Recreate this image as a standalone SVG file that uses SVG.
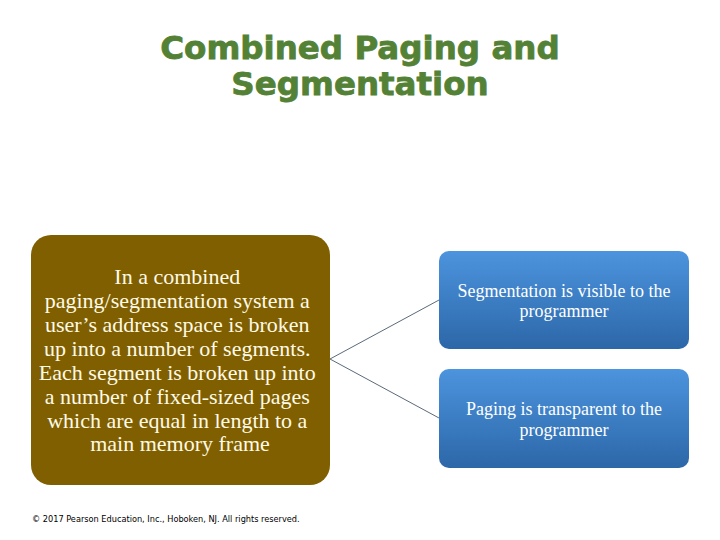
<svg xmlns="http://www.w3.org/2000/svg" width="720" height="540" viewBox="0 0 720 540">
<defs>
<linearGradient id="blue" x1="0" y1="0" x2="0" y2="1">
<stop offset="0" stop-color="#4C94DE"/>
<stop offset="1" stop-color="#2C67A8"/>
</linearGradient>
<style>
.title{font-family:"DejaVu Sans","Liberation Sans",sans-serif;font-weight:bold;font-size:32.5px;fill:#538135;stroke:#538135;stroke-width:0.8;text-anchor:middle}
.main{font-family:"Liberation Serif",serif;font-size:22px;fill:#FFFAE6;text-anchor:middle}
.side{font-family:"Liberation Serif",serif;font-size:18px;fill:#FFFFFF;text-anchor:middle}
.foot{font-family:"DejaVu Sans",sans-serif;font-size:8.2px;fill:#000}
.conn{stroke:#5A6A7A;stroke-width:1;fill:none}
</style>
</defs>
<rect width="720" height="540" fill="#FFFFFF"/>
<g id="title">
<text class="title" x="360" y="59">Combined Paging and</text>
<text class="title" x="360" y="95">Segmentation</text>
</g>
<g id="connectors">
<line class="conn" x1="330" y1="359" x2="439" y2="300"/>
<line class="conn" x1="330" y1="359" x2="439" y2="418"/>
</g>
<g id="main">
<rect x="31" y="235" width="299" height="250" rx="20" fill="#7F5F00"/>
<text class="main">
<tspan x="180" y="284">In a combined</tspan>
<tspan x="180" y="308">paging/segmentation system a</tspan>
<tspan x="180" y="332">user’s address space is broken</tspan>
<tspan x="180" y="356">up into a number of segments.</tspan>
<tspan x="180" y="380">Each segment is broken up into</tspan>
<tspan x="180" y="404">a number of fixed-sized pages</tspan>
<tspan x="180" y="428">which are equal in length to a</tspan>
<tspan x="180" y="451">main memory frame</tspan>
</text>
</g>
<g id="seg">
<rect x="439" y="251" width="250" height="98" rx="10" fill="url(#blue)"/>
<text class="side"><tspan x="564" y="297">Segmentation is visible to the</tspan><tspan x="564" y="317">programmer</tspan></text>
</g>
<g id="paging">
<rect x="439" y="369" width="250" height="99" rx="10" fill="url(#blue)"/>
<text class="side"><tspan x="564" y="415">Paging is transparent to the</tspan><tspan x="564" y="436">programmer</tspan></text>
</g>
<g id="footer">
<text class="foot" x="32" y="522">© 2017 Pearson Education, Inc., Hoboken, NJ. All rights reserved.</text>
</g>
</svg>
